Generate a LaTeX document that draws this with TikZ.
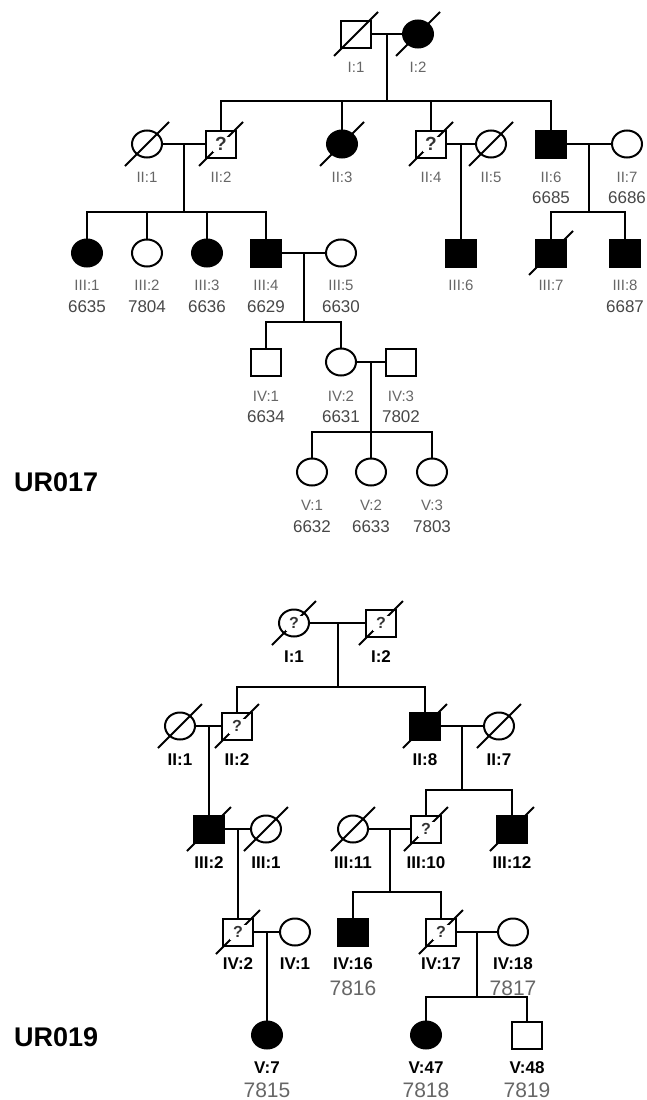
\documentclass[tikz,border=0pt]{standalone}
\usepackage{fontspec}
\setmainfont{Liberation Sans}
\usetikzlibrary{shapes.geometric}
\tikzset{
  ind/.style={draw, line width=2pt, inner sep=0pt, minimum width=30pt, minimum height=27pt},
  male/.style={ind, rectangle},
  fem/.style={ind, ellipse},
  aff/.style={fill=black},
  una/.style={fill=white},
  con/.style={line width=1.3pt},
  slash/.style={line width=2pt},
  qmA/.style={fill=white, inner sep=0pt, minimum width=17pt, minimum height=15pt, text=black!80, font=\bfseries\fontsize{19}{19}\selectfont},
  qmB/.style={fill=white, inner sep=0pt, minimum width=17pt, minimum height=15pt, text=black!80, font=\bfseries\fontsize{16}{16}\selectfont},
  lblA/.style={text=black!60, font=\fontsize{15}{15}\selectfont},
  numA/.style={text=black!72, font=\fontsize{17}{17}\selectfont},
  lblB/.style={text=black, font=\bfseries\fontsize{17}{17}\selectfont},
  numB/.style={text=black!60, font=\fontsize{21}{21}\selectfont},
  ttl/.style={font=\bfseries\fontsize{27}{27}\selectfont, anchor=west, inner sep=0pt},
}
\begin{document}
\begin{tikzpicture}[x=1pt,y=-1pt]
\path[use as bounding box] (0,0) rectangle (646,1100);

% ================= UR017 =================
\node[ttl] (t1) at (14,482) {UR017};

\node[male,una] (aI1) at (356,34) {};
\node[fem,aff]  (aI2) at (418,34) {};

\node[fem,una]  (aII1) at (147,144) {};
\node[male,una] (aII2) at (221,144) {};
\node[fem,aff]  (aII3) at (342,144) {};
\node[male,una] (aII4) at (431,144) {};
\node[fem,una]  (aII5) at (491,144) {};
\node[male,aff] (aII6) at (551,144) {};
\node[fem,una]  (aII7) at (627,144) {};

\node[fem,aff]  (aIII1) at (87,253) {};
\node[fem,una]  (aIII2) at (147,253) {};
\node[fem,aff]  (aIII3) at (207,253) {};
\node[male,aff] (aIII4) at (266,253) {};
\node[fem,una]  (aIII5) at (341,253) {};
\node[male,aff] (aIII6) at (461,253) {};
\node[male,aff] (aIII7) at (551,253) {};
\node[male,aff] (aIII8) at (625,253) {};

\node[male,una] (aIV1) at (266,362) {};
\node[fem,una]  (aIV2) at (341,362) {};
\node[male,una] (aIV3) at (401,362) {};

\node[fem,una] (aV1) at (312,472) {};
\node[fem,una] (aV2) at (371,472) {};
\node[fem,una] (aV3) at (432,472) {};

% connectors UR017
\coordinate (aJ1) at (387,34);  \coordinate (aS1) at (387,101);
\draw[con] (aI1.east) -- (aI2.west);
\draw[con] (aJ1) -- (aS1);
\draw[con] (aII2.north) -- (aII2.north |- aS1) -- (aII6.north |- aS1) -- (aII6.north);
\draw[con] (aII3.north) -- (aII3.north |- aS1);
\draw[con] (aII4.north) -- (aII4.north |- aS1);

\coordinate (aJ2) at (184,144); \coordinate (aS2) at (184,212);
\draw[con] (aII1.east) -- (aII2.west);
\draw[con] (aJ2) -- (aS2);
\draw[con] (aIII1.north) -- (aIII1.north |- aS2) -- (aIII4.north |- aS2) -- (aIII4.north);
\draw[con] (aIII2.north) -- (aIII2.north |- aS2);
\draw[con] (aIII3.north) -- (aIII3.north |- aS2);

\coordinate (aJ3) at (461,144);
\draw[con] (aII4.east) -- (aII5.west);
\draw[con] (aJ3) -- (aIII6.north);

\coordinate (aJ4) at (589,144); \coordinate (aS4) at (589,212);
\draw[con] (aII6.east) -- (aII7.west);
\draw[con] (aJ4) -- (aS4);
\draw[con] (aIII7.north) -- (aIII7.north |- aS4) -- (aIII8.north |- aS4) -- (aIII8.north);

\coordinate (aJ5) at (304,253); \coordinate (aS5) at (304,322);
\draw[con] (aIII4.east) -- (aIII5.west);
\draw[con] (aJ5) -- (aS5);
\draw[con] (aIV1.north) -- (aIV1.north |- aS5) -- (aIV2.north |- aS5) -- (aIV2.north);

\coordinate (aJ6) at (371,362); \coordinate (aS6) at (371,432);
\draw[con] (aIV2.east) -- (aIV3.west);
\draw[con] (aJ6) -- (aS6);
\draw[con] (aV1.north) -- (aV1.north |- aS6) -- (aV3.north |- aS6) -- (aV3.north);
\draw[con] (aV2.north) -- (aV2.north |- aS6);

% deceased UR017
\foreach \n in {aI1,aI2,aII1,aII2,aII3,aII4,aII5,aIII7}
  \draw[slash] ([shift={(-22pt,-22pt)}]\n.center) -- ([shift={(22pt,22pt)}]\n.center);
\node[qmA] (aq2) at (aII2) {?};
\node[qmA] (aq4) at (aII4) {?};

% labels UR017
\node[lblA] (aI1l) at (356,67) {I:1};
\node[lblA] (aI2l) at (418,67) {I:2};
\node[lblA] (aII1l) at (147,177) {II:1};
\node[lblA] (aII2l) at (221,177) {II:2};
\node[lblA] (aII3l) at (342,177) {II:3};
\node[lblA] (aII4l) at (431,177) {II:4};
\node[lblA] (aII5l) at (491,177) {II:5};
\node[lblA] (aII6l) at (551,177) {II:6};
\node[lblA] (aII7l) at (627,177) {II:7};
\node[numA] (aII6n) at (551,198) {6685};
\node[numA] (aII7n) at (627,198) {6686};

\node[lblA] (aIII1l) at (87,285) {III:1};
\node[lblA] (aIII2l) at (147,285) {III:2};
\node[lblA] (aIII3l) at (207,285) {III:3};
\node[lblA] (aIII4l) at (266,285) {III:4};
\node[lblA] (aIII5l) at (341,285) {III:5};
\node[lblA] (aIII6l) at (461,285) {III:6};
\node[lblA] (aIII7l) at (551,285) {III:7};
\node[lblA] (aIII8l) at (625,285) {III:8};
\node[numA] (aIII1n) at (87,307) {6635};
\node[numA] (aIII2n) at (147,307) {7804};
\node[numA] (aIII3n) at (207,307) {6636};
\node[numA] (aIII4n) at (266,307) {6629};
\node[numA] (aIII5n) at (341,307) {6630};
\node[numA] (aIII8n) at (625,307) {6687};

\node[lblA] (aIV1l) at (266,396) {IV:1};
\node[lblA] (aIV2l) at (341,396) {IV:2};
\node[lblA] (aIV3l) at (401,396) {IV:3};
\node[numA] (aIV1n) at (266,417) {6634};
\node[numA] (aIV2n) at (341,417) {6631};
\node[numA] (aIV3n) at (401,417) {7802};

\node[lblA] (aV1l) at (312,505) {V:1};
\node[lblA] (aV2l) at (371,505) {V:2};
\node[lblA] (aV3l) at (432,505) {V:3};
\node[numA] (aV1n) at (312,527) {6632};
\node[numA] (aV2n) at (371,527) {6633};
\node[numA] (aV3n) at (432,527) {7803};

% ================= UR019 =================
\node[ttl] (t2) at (14,1037) {UR019};

\node[fem,una]  (bI1) at (294,623) {};
\node[male,una] (bI2) at (381,623) {};

\node[fem,una]  (bII1) at (180,726) {};
\node[male,una] (bII2) at (237,726) {};
\node[male,aff] (bII8) at (425,726) {};
\node[fem,una]  (bII7) at (499,726) {};

\node[male,aff] (bIII2) at (209,829) {};
\node[fem,una]  (bIII1) at (266,829) {};
\node[fem,una]  (bIII11) at (353,829) {};
\node[male,una] (bIII10) at (426,829) {};
\node[male,aff] (bIII12) at (512,829) {};

\node[male,una] (bIV2) at (238,932) {};
\node[fem,una]  (bIV1) at (295,932) {};
\node[male,aff] (bIV16) at (353,932) {};
\node[male,una] (bIV17) at (441,932) {};
\node[fem,una]  (bIV18) at (513,932) {};

\node[fem,aff]  (bV7) at (267,1035) {};
\node[fem,aff]  (bV47) at (426,1035) {};
\node[male,una] (bV48) at (527,1035) {};

% connectors UR019
\coordinate (bJ1) at (338,623); \coordinate (bS1) at (338,687);
\draw[con] (bI1.east) -- (bI2.west);
\draw[con] (bJ1) -- (bS1);
\draw[con] (bII2.north) -- (bII2.north |- bS1) -- (bII8.north |- bS1) -- (bII8.north);

\coordinate (bJ2) at (209,726);
\draw[con] (bII1.east) -- (bII2.west);
\draw[con] (bJ2) -- (bIII2.north);

\coordinate (bJ3) at (462,726); \coordinate (bS3) at (462,790);
\draw[con] (bII8.east) -- (bII7.west);
\draw[con] (bJ3) -- (bS3);
\draw[con] (bIII10.north) -- (bIII10.north |- bS3) -- (bIII12.north |- bS3) -- (bIII12.north);

\coordinate (bJ4) at (238,829);
\draw[con] (bIII2.east) -- (bIII1.west);
\draw[con] (bJ4) -- (bIV2.north);

\coordinate (bJ5) at (390,829); \coordinate (bS5) at (390,892);
\draw[con] (bIII11.east) -- (bIII10.west);
\draw[con] (bJ5) -- (bS5);
\draw[con] (bIV16.north) -- (bIV16.north |- bS5) -- (bIV17.north |- bS5) -- (bIV17.north);

\coordinate (bJ6) at (267,932);
\draw[con] (bIV2.east) -- (bIV1.west);
\draw[con] (bJ6) -- (bV7.north);

\coordinate (bJ7) at (477,932); \coordinate (bS7) at (477,997);
\draw[con] (bIV17.east) -- (bIV18.west);
\draw[con] (bJ7) -- (bS7);
\draw[con] (bV47.north) -- (bV47.north |- bS7) -- (bV48.north |- bS7) -- (bV48.north);

% deceased UR019
\foreach \n in {bI1,bI2,bII1,bII2,bII8,bII7,bIII2,bIII1,bIII11,bIII10,bIII12,bIV2,bIV17}
  \draw[slash] ([shift={(-22pt,-22pt)}]\n.center) -- ([shift={(22pt,22pt)}]\n.center);
\node[qmB] (bq1) at (bI1) {?};
\node[qmB] (bq2) at (bI2) {?};
\node[qmB] (bq3) at (bII2) {?};
\node[qmB] (bq4) at (bIII10) {?};
\node[qmB] (bq5) at (bIV2) {?};
\node[qmB] (bq6) at (bIV17) {?};

% labels UR019
\node[lblB] (bI1l) at (294,657) {I:1};
\node[lblB] (bI2l) at (381,657) {I:2};
\node[lblB] (bII1l) at (180,760) {II:1};
\node[lblB] (bII2l) at (237,760) {II:2};
\node[lblB] (bII8l) at (425,760) {II:8};
\node[lblB] (bII7l) at (499,760) {II:7};
\node[lblB] (bIII2l) at (209,863) {III:2};
\node[lblB] (bIII1l) at (266,863) {III:1};
\node[lblB] (bIII11l) at (353,863) {III:11};
\node[lblB] (bIII10l) at (426,863) {III:10};
\node[lblB] (bIII12l) at (512,863) {III:12};
\node[lblB] (bIV2l) at (238,964) {IV:2};
\node[lblB] (bIV1l) at (295,964) {IV:1};
\node[lblB] (bIV16l) at (353,964) {IV:16};
\node[lblB] (bIV17l) at (441,964) {IV:17};
\node[lblB] (bIV18l) at (513,964) {IV:18};
\node[numB] (bIV16n) at (353,988) {7816};
\node[numB] (bIV18n) at (513,988) {7817};
\node[lblB] (bV7l) at (267,1068) {V:7};
\node[lblB] (bV47l) at (426,1068) {V:47};
\node[lblB] (bV48l) at (527,1068) {V:48};
\node[numB] (bV7n) at (267,1090) {7815};
\node[numB] (bV47n) at (426,1090) {7818};
\node[numB] (bV48n) at (527,1090) {7819};
\end{tikzpicture}
\end{document}
